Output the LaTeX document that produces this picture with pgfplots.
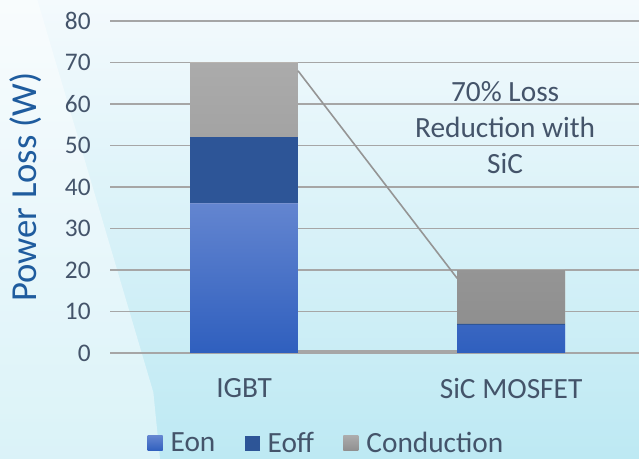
\documentclass[border=0pt]{standalone}
\usepackage{pgfplots}
\pgfplotsset{compat=1.18}
\usepackage{fontspec}
\setmainfont{Carlito}
\definecolor{txt}{HTML}{44546A}
\definecolor{ylab}{HTML}{1F5C9E}
\definecolor{gridc}{HTML}{A6A6A6}
\definecolor{eonT}{HTML}{6385D0}
\definecolor{eonB}{HTML}{2F5FBE}
\definecolor{eoff}{HTML}{2D5597}
\definecolor{conT}{HTML}{ABABAB}
\definecolor{conB}{HTML}{8F8F8F}
\definecolor{bgT}{HTML}{F4FAFD}
\definecolor{bgB}{HTML}{BDE9F3}
\begin{document}
\begin{tikzpicture}
\path[use as bounding box] (0,0) rectangle (479.25pt,344.25pt);
\clip (0,0) rectangle (479.25pt,344.25pt);
\shade[top color=bgT, bottom color=bgB] (0,0) rectangle (479.25pt,344.25pt);
\fill[white, opacity=0.45] (0,344.25pt) -- (28pt,344.25pt) -- (115pt,50pt) -- (120pt,0) -- (0,0) -- cycle;
\begin{axis}[
  at={(82.5pt,79.5pt)}, anchor=south west,
  scale only axis, width=396.75pt, height=249pt,
  ybar stacked, bar width=0.404,
  xmin=-0.502, xmax=1.479, ymin=0, ymax=80,
  axis line style={draw=none},
  ymajorgrids, grid style={gridc, line width=1pt},
  ytick={0,10,...,80}, xtick={0,1},
  xticklabels={IGBT, SiC MOSFET},
  major tick length=0pt,
  /pgf/number format/assume math mode=true,
  yticklabel style={font=\fontsize{19}{22}\selectfont, text=txt, xshift=-11pt},
  xticklabel style={font=\fontsize{22}{26}\selectfont, text=txt, yshift=-15.5pt},
  ylabel={Power Loss (W)},
  every axis y label/.style={at={(axis description cs:-0.16,0.5)}, rotate=90, anchor=center, font=\fontsize{27.5}{32}\selectfont, text=ylab},
  legend style={at={(axis description cs:0.41,-0.272)}, anchor=center, draw=none, fill=none, font=\fontsize{22}{26}\selectfont, text=txt, legend columns=3, /tikz/every odd column/.append style={column sep=4pt}, /tikz/every even column/.append style={column sep=20pt}},
  legend image code/.code={\fill[#1] (0pt,-5.6pt) rectangle (11.25pt,5.6pt);},
]
\addplot+[draw=none, top color=eonT, bottom color=eonB] coordinates {(0,36) (1,6.7)};
\addplot+[draw=none, fill=eoff] coordinates {(0,16) (1,0.3)};
\addplot+[draw=none, top color=conT, bottom color=conB] coordinates {(0,18) (1,13)};
\legend{Eon, Eoff, Conduction}
\end{axis}
\begin{axis}[
  at={(82.5pt,79.5pt)}, anchor=south west,
  scale only axis, width=396.75pt, height=249pt,
  xmin=-0.502, xmax=1.479, ymin=0, ymax=80,
  hide axis,
]
\addplot[gridc!90!black, line width=1.2pt] coordinates {(0.202,68) (0.798,18)};
\addplot[gridc, line width=2pt] coordinates {(0.202,0.4) (0.798,0.4)};
\node[align=center, font=\fontsize{22}{27}\selectfont, text=txt] at (rel axis cs:0.747,0.678) {70\% Loss\\Reduction with\\SiC};
\end{axis}
\end{tikzpicture}
\end{document}
